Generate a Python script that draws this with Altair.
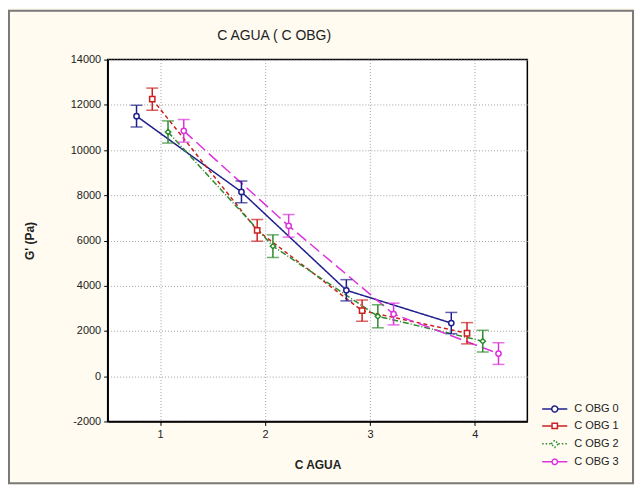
import altair as alt
import pandas as pd

# ---------------- data ----------------
agua_levels = [1, 2, 3, 4]
series_names = ["C OBG 0", "C OBG 1", "C OBG 2", "C OBG 3"]
g_obg0 = [11500, 8150, 3800, 2350]
g_obg1 = [12250, 6450, 2900, 1900]
g_obg2 = [10800, 5750, 2650, 1550]
g_obg3 = [10850, 6650, 2750, 1000]
err_obg0 = [480, 480, 470, 470]
err_obg1 = [490, 480, 470, 470]
err_obg2 = [490, 500, 510, 480]
err_obg3 = [500, 500, 480, 480]
y_tick_values = [-2000, 0, 2000, 4000, 6000, 8000, 10000, 12000, 14000]
x_tick_values = [1, 2, 3, 4]
chart_title = "C AGUA ( C OBG)"

# ---------------- styles ----------------
colors = ["#1f1f8c", "#cc2020", "#2e8b2e", "#dd33dd"]
dodge = [-0.225, -0.075, 0.075, 0.225]
dashes = [[1, 0], [4, 3], [6, 2, 1, 2], [12, 5]]
shapes = ["circle", "square", "diamond", "circle"]
legend_dashes = [[1, 0], [1, 0], [1.5, 2], [1, 0]]
legend_paths = [
    "M-4.2,0H-1M1,0H4.2M-1,0A1 1 0 1 0 1,0A1 1 0 1 0 -1,0Z",
    "M-4.2,0H-0.9M0.9,0H4.2M-0.9,-0.9H0.9V0.9H-0.9Z",
    "M-4.2,0H-1.2M1.2,0H4.2M-1.2,0L0,-1.2L1.2,0L0,1.2Z",
    "M-4.2,0H-0.9M0.9,0H4.2M-0.9,0A0.9 0.9 0 1 0 0.9,0A0.9 0.9 0 1 0 -0.9,0Z",
]
FONT = "Liberation Sans"
TXT = "#222222"

means = [g_obg0, g_obg1, g_obg2, g_obg3]
errs = [err_obg0, err_obg1, err_obg2, err_obg3]
rows = []
for s, name in enumerate(series_names):
    for i, lvl in enumerate(agua_levels):
        rows.append({
            "serie": name,
            "agua": lvl,
            "xpos": lvl + dodge[s],
            "g": means[s][i],
            "lo": means[s][i] - errs[s][i],
            "hi": means[s][i] + errs[s][i],
        })
df = pd.DataFrame(rows)

x_enc = alt.X(
    "xpos:Q",
    scale=alt.Scale(domain=[0.5, 4.5], nice=False, zero=False),
    axis=alt.Axis(values=x_tick_values, format="d", title="C AGUA",
                  titleY=43, titleBaseline="middle"),
)
y_scale = alt.Scale(domain=[-2000, 14000], nice=False, zero=False)
y_enc = alt.Y(
    "g:Q", scale=y_scale,
    axis=alt.Axis(values=y_tick_values, labelExpr="'' + datum.value", title="G' (Pa)",
                  titleX=-78, titleY=181.5, titleAlign="center",
                  titleBaseline="middle", titleAngle=-90),
)
color_enc = alt.Color("serie:N", scale=alt.Scale(domain=series_names, range=colors), legend=None)
stroke_scale = alt.Scale(domain=series_names, range=colors)

base = alt.Chart(df)

lines = base.mark_line(strokeWidth=1.5).encode(
    x=x_enc, y=y_enc, color=color_enc, detail="serie:N",
    strokeDash=alt.StrokeDash("serie:N", scale=alt.Scale(domain=series_names, range=dashes), legend=None),
)
bars = base.mark_rule(strokeWidth=1.5).encode(
    x=x_enc, y=alt.Y("lo:Q", scale=y_scale), y2="hi:Q", color=color_enc,
)
caps_lo = base.mark_tick(orient="horizontal", size=12, thickness=1.5).encode(
    x=x_enc, y=alt.Y("lo:Q", scale=y_scale), color=color_enc,
)
caps_hi = base.mark_tick(orient="horizontal", size=12, thickness=1.5).encode(
    x=x_enc, y=alt.Y("hi:Q", scale=y_scale), color=color_enc,
)
points = base.mark_point(size=28, strokeWidth=1.5, opacity=1).encode(
    x=x_enc, y=y_enc,
    stroke=alt.Stroke("serie:N", scale=stroke_scale, legend=None),
    shape=alt.Shape("serie:N", scale=alt.Scale(domain=series_names, range=shapes), legend=None),
    fill=alt.value("white"),
)

leg = alt.Legend(
    title=None, orient="none", legendX=443, legendY=345,
    labelFont=FONT, labelFontSize=11, labelColor=TXT,
    symbolSize=36, symbolStrokeWidth=1.5, rowPadding=4, labelOffset=14,
    padding=0,
)
legend_layer = alt.Chart(df).transform_filter("false").mark_point(
    size=36, strokeWidth=1.5, opacity=1
).encode(
    x=x_enc, y=y_enc,
    stroke=alt.Stroke("serie:N", scale=stroke_scale, legend=leg),
    shape=alt.Shape("serie:N", scale=alt.Scale(domain=series_names, range=legend_paths), legend=leg),
    strokeDash=alt.StrokeDash("serie:N", scale=alt.Scale(domain=series_names, range=legend_dashes), legend=leg),
    fill=alt.value("white"),
)

frame = alt.Chart(pd.DataFrame({"k": [0]})).mark_rect(
    fill="transparent", stroke="#7a7a7a", strokeWidth=2
).encode(x=alt.value(-99), x2=alt.value(527), y=alt.value(-49), y2=alt.value(425))

title_text = alt.Chart(pd.DataFrame({"t": [chart_title]})).mark_text(
    font=FONT, fontSize=14, color=TXT, align="center", baseline="middle"
).encode(text="t:N", x=alt.value(167), y=alt.value(-24))

chart = alt.layer(frame, title_text, lines, bars, caps_lo, caps_hi, points, legend_layer).resolve_scale(
    stroke="independent", shape="independent", strokeDash="independent"
).properties(
    width=421, height=363,
    padding={"left": 100, "top": 51, "right": 108, "bottom": 63},
    autosize=alt.AutoSizeParams(type="none"),
    background="#fffbf0",
).configure_view(
    fill="white", stroke="black", strokeWidth=1.5
).configure_axis(
    labelFont=FONT, labelFontSize=11, labelColor=TXT,
    titleFont=FONT, titleFontSize=12, titleFontWeight="bold", titleColor=TXT,
    tickColor="black", tickSize=4, labelPadding=3,
    domainColor="black", domainWidth=1.5,
    grid=True, gridColor="#a0a0a0", gridDash=[1, 2], gridWidth=1,
)

chart.save("out.html", embed_options={"renderer": "svg", "actions": False})
